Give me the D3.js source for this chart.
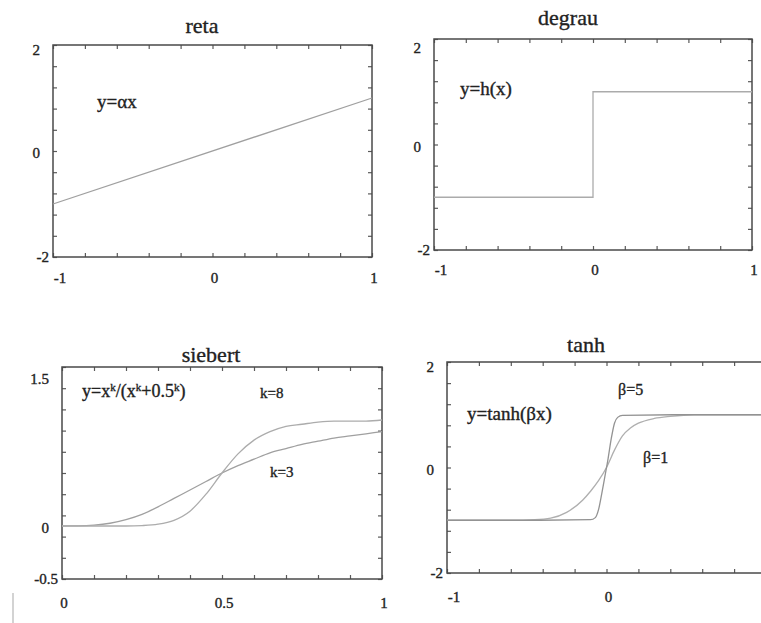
<!DOCTYPE html>
<html>
<head>
<meta charset="utf-8">
<script src="https://cdn.jsdelivr.net/npm/d3@7"></script>
<style>
  body { margin: 0; background: #fff; }
  svg { display: block; }
</style>
</head>
<body>
<svg id="chart" width="761" height="623" font-family="'Liberation Serif', 'DejaVu Serif', serif"></svg>
<script>
// ---- panel titles ----
const panelTitles = ["reta", "degrau", "siebert", "tanh"];

// ---- reta: y = αx ----
const retaX = [-1, 1];
const retaY = [-1, 1];

// ---- degrau: y = h(x) ----
const degrauX = [-1, 0, 0, 1];
const degrauY = [-1, -1, 1, 1];

// ---- siebert: y = x^k / (x^k + 0.5^k) ----
const siebertX  = [0, 0.05, 0.1, 0.15, 0.2, 0.25, 0.3, 0.35, 0.4, 0.45, 0.5, 0.55, 0.6, 0.65, 0.7, 0.75, 0.8, 0.85, 0.9, 0.95, 1];
const siebertK3 = [0, 0.001, 0.008, 0.026, 0.06, 0.11, 0.18, 0.26, 0.34, 0.42, 0.5, 0.57, 0.63, 0.69, 0.73, 0.77, 0.8, 0.83, 0.85, 0.87, 0.89];
const siebertK8 = [0, 0, 0, 0, 0, 0.004, 0.017, 0.054, 0.14, 0.3, 0.5, 0.68, 0.81, 0.89, 0.94, 0.96, 0.98, 0.99, 0.99, 0.99, 1];

// ---- tanh: y = tanh(βx) ----
const tanhX1 = [-1, -0.6, -0.45, -0.35, -0.25, -0.15, -0.1, -0.05, 0, 0.05, 0.1, 0.15, 0.2, 0.3, 0.4, 0.55, 1];
const tanhB1 = [-1, -1, -0.99, -0.96, -0.85, -0.62, -0.45, -0.25, 0, 0.33, 0.6, 0.75, 0.84, 0.93, 0.97, 1, 1];
const tanhX5 = [-1, -0.5, -0.1, -0.07, -0.05, -0.03, -0.01, 0.01, 0.03, 0.05, 0.07, 0.1, 0.5, 1];
const tanhB5 = [-1, -1, -0.99, -0.95, -0.8, -0.5, -0.17, 0.17, 0.55, 0.84, 0.95, 0.99, 1, 1];

// ---- tick labels ----
const xLabelsSym = [-1, 0, 1];
const yLabelsSym = [-2, 0, 2];
const xLabelsSiebert = [0, 0.5, 1];
const yLabelsSiebert = [-0.5, 0, 1.5];
const xLabelsTanh = [-1, 0];   // the right-hand label falls past the page edge

const svg = d3.select("#chart");

const panels = [
  { title: panelTitles[0], l: 53, t: 45, w: 319, h: 212,
    xd: [-1, 1], yd: [-2, 2], xStep: 0.2, yStep: 0.4,
    xLabels: xLabelsSym, yLabels: yLabelsSym,
    titleDx: 149, titleDy: -12, topShift: 5, xGap: 26,
    series: [{ x: retaX, y: retaY, color: "#a0a0a0", curve: d3.curveLinear }],
    notes: [{ parts: [["y=αx"]], dx: 44, dy: 63, size: 19 }] },
  { title: panelTitles[1], l: 434, t: 39, w: 318, h: 211,
    xd: [-1, 1], yd: [-2, 2], xStep: 0.2, yStep: 0.4,
    xLabels: xLabelsSym, yLabels: yLabelsSym,
    titleDx: 134, titleDy: -14, topShift: 9, xGap: 25,
    series: [{ x: degrauX, y: degrauY, color: "#ababab", curve: d3.curveLinear }],
    notes: [{ parts: [["y=h(x)"]], dx: 26, dy: 56, size: 19 }] },
  { title: panelTitles[2], l: 62, t: 367, w: 320, h: 212,
    xd: [0, 1], yd: [-0.5, 1.5], xStep: 0.1, yStep: 0.2,
    xLabels: xLabelsSiebert, yLabels: yLabelsSiebert,
    titleDx: 149, titleDy: -5, topShift: 12, xGap: 29,
    series: [
      { x: siebertX, y: siebertK3, color: "#a0a0a0", curve: d3.curveMonotoneX },
      { x: siebertX, y: siebertK8, color: "#acacac", curve: d3.curveMonotoneX }
    ],
    notes: [
      { parts: [["y=x"], ["k", "sup"], ["/(x"], ["k", "sup"], ["+0.5"], ["k", "sup"], [")"]], dx: 20, dy: 30, size: 18 },
      { parts: [["k=8"]], dx: 198, dy: 31, size: 15 },
      { parts: [["k=3"]], dx: 208, dy: 110, size: 15 }
    ] },
  { title: panelTitles[3], l: 447, t: 362, w: 319, h: 211,
    xd: [-1, 1], yd: [-2, 2], xStep: 0.2, yStep: 0.4,
    xLabels: xLabelsTanh, yLabels: yLabelsSym,
    titleDx: 139, titleDy: -10, topShift: 5, xGap: 29,
    series: [
      { x: tanhX1, y: tanhB1, color: "#afafaf", curve: d3.curveMonotoneX },
      { x: tanhX5, y: tanhB5, color: "#939393", curve: d3.curveMonotoneX }
    ],
    notes: [
      { parts: [["y=tanh(βx)"]], dx: 20, dy: 58, size: 19 },
      { parts: [["β=5"]], dx: 171, dy: 33, size: 16 },
      { parts: [["β=1"]], dx: 196, dy: 101, size: 16 }
    ] }
];

const tickLen = 4;
const frameColor = "#4a4a4a";
const textColor = "#222";

// slightly heavier glyphs, like print
function inked(sel) {
  return sel.attr("fill", textColor).attr("stroke", textColor).attr("stroke-width", 0.35);
}

panels.forEach(p => {
  const x = d3.scaleLinear().domain(p.xd).range([0, p.w]);
  const y = d3.scaleLinear().domain(p.yd).range([p.h, 0]);
  const g = svg.append("g").attr("transform", `translate(${p.l},${p.t})`);

  const xMinor = d3.range(p.xd[0], p.xd[1] + p.xStep / 2, p.xStep);
  const yMinor = d3.range(p.yd[0], p.yd[1] + p.yStep / 2, p.yStep);

  // inward tick marks on all four sides
  const sides = [
    { axis: d3.axisBottom(x).tickValues(xMinor), tr: `translate(0,${p.h})` },
    { axis: d3.axisTop(x).tickValues(xMinor), tr: "translate(0,0)" },
    { axis: d3.axisLeft(y).tickValues(yMinor), tr: "translate(0,0)" },
    { axis: d3.axisRight(y).tickValues(yMinor), tr: `translate(${p.w},0)` }
  ];
  sides.forEach(s => {
    const ag = g.append("g").attr("transform", s.tr)
      .call(s.axis.tickSize(-tickLen).tickFormat(""));
    ag.select(".domain").remove();
    ag.selectAll("line").attr("stroke", "#5a5a5a").attr("stroke-width", 1.2);
  });

  // frame
  g.append("rect")
    .attr("x", 0).attr("y", 0).attr("width", p.w).attr("height", p.h)
    .attr("fill", "none").attr("stroke", frameColor).attr("stroke-width", 1.5);

  // curves
  p.series.forEach(s => {
    const pts = d3.zip(s.x, s.y);
    g.append("path")
      .datum(pts)
      .attr("fill", "none")
      .attr("stroke", s.color)
      .attr("stroke-width", 1.3)
      .attr("d", d3.line().x(d => x(d[0])).y(d => y(d[1])).curve(s.curve));
  });

  // x tick labels
  inked(g.selectAll(".xl").data(p.xLabels).enter().append("text")
    .attr("x", d => x(d) + (d < 0 ? 7 : 2))
    .attr("y", p.h + p.xGap)
    .attr("text-anchor", "middle")
    .attr("font-size", 15)
    .text(d => String(d)));

  // y tick labels
  const yTop = d3.max(p.yLabels);
  inked(g.selectAll(".yl").data(p.yLabels).enter().append("text")
    .attr("x", d => d < 0 ? -4 : -13)
    .attr("y", d => y(d) + 5 + (d === yTop ? p.topShift : (d === 0 ? 2 : 0)))
    .attr("text-anchor", "end")
    .attr("font-size", 15)
    .text(d => String(d)));

  // title
  inked(g.append("text")
    .attr("x", p.titleDx).attr("y", p.titleDy)
    .attr("text-anchor", "middle")
    .attr("font-size", 22)
    .text(p.title));

  // annotations
  p.notes.forEach(n => {
    const t = inked(g.append("text").attr("x", n.dx).attr("y", n.dy)
      .attr("font-size", n.size));
    n.parts.forEach(part => {
      const ts = t.append("tspan").text(part[0]);
      if (part[1] === "sup") {
        ts.attr("font-size", n.size * 0.62).attr("baseline-shift", "super");
      }
    });
  });
});

// faint vertical mark at the lower-left margin
svg.append("line")
  .attr("x1", 13).attr("x2", 13).attr("y1", 593).attr("y2", 623)
  .attr("stroke", "#c4c4c4").attr("stroke-width", 1.5);
</script>
</body>
</html>
